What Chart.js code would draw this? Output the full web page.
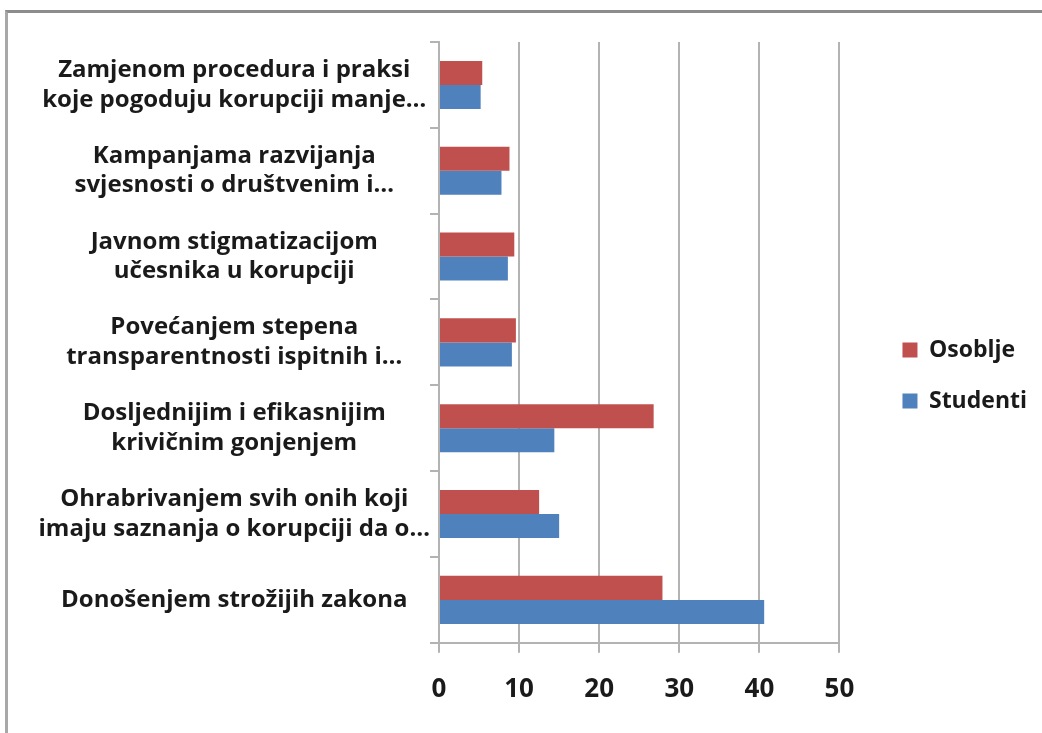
<!DOCTYPE html>
<html>
<head>
<meta charset="utf-8">
<script src="https://cdn.jsdelivr.net/npm/chart.js@4"></script>
<style>
  html, body { margin: 0; padding: 0; background: #fff; overflow: hidden; }
  #frame {
    position: absolute; left: 5px; top: 10px; width: 1037px; height: 723px;
    border-top: 3px solid #8c8c8c; border-left: 3px solid #a8a8a8;
    box-sizing: border-box;
  }
  #wrap { position: absolute; left: 0; top: 0; width: 1034px; height: 720px; }
</style>
</head>
<body>
<div id="frame"><div id="wrap"><canvas id="display1"></canvas></div></div>
<script>
  // kategorije (odozgo prema dolje)
  var categories = [
    ['Zamjenom procedura i praksi', 'koje pogoduju korupciji manje…'],
    ['Kampanjama razvijanja', 'svjesnosti o društvenim i…'],
    ['Javnom stigmatizacijom', 'učesnika u korupciji'],
    ['Povećanjem stepena', 'transparentnosti ispitnih i…'],
    ['Dosljednijim i efikasnijim', 'krivičnim gonjenjem'],
    ['Ohrabrivanjem svih onih koji', 'imaju saznanja o korupciji da o…'],
    'Donošenjem strožijih zakona'
  ];

  var osoblje  = [5.4, 8.8, 9.4, 9.6, 26.8, 12.5, 27.9];
  var studenti = [5.2, 7.8, 8.6, 9.1, 14.4, 15.0, 40.6];

  var x_ticks = [0, 10, 20, 30, 40, 50];

  var font_family = '"Open Sans", "Noto Sans", sans-serif';

  var ctx = document.getElementById('display1').getContext('2d');

  var myChart = new Chart(ctx, {
    type: 'bar',
    data: {
      labels: categories,
      datasets: [
        {
          label: 'Osoblje',
          data: osoblje,
          backgroundColor: '#c0504d',
          borderWidth: 0
        },
        {
          label: 'Studenti',
          data: studenti,
          backgroundColor: '#4f81bd',
          borderWidth: 0
        }
      ]
    },
    options: {
      indexAxis: 'y',
      responsive: true,
      maintainAspectRatio: false,
      animation: false,
      datasets: {
        bar: { categoryPercentage: 0.56, barPercentage: 1.0 }
      },
      layout: { padding: { top: 12, bottom: 7, left: 0, right: 5 } },
      plugins: {
        tooltip: { enabled: false },
        legend: {
          position: 'right',
          labels: {
            boxWidth: 15,
            boxHeight: 15,
            padding: 28,
            color: '#1a1a1a',
            font: { family: font_family, size: 23, weight: 'bold' }
          }
        }
      },
      scales: {
        x: {
          min: 0,
          max: 50,
          afterBuildTicks: function(axis) {
            axis.ticks = x_ticks.map(function(v) { return { value: v }; });
          },
          grid: {
            color: '#b3b3b3',
            lineWidth: 2,
            tickLength: 10
          },
          border: { color: '#b3b3b3', width: 2 },
          ticks: {
            padding: 21,
            color: '#1a1a1a',
            font: { family: font_family, size: 26, weight: 'bold' }
          }
        },
        y: {
          afterFit: function(axis) { axis.width = 431; },
          grid: {
            drawOnChartArea: false,
            color: '#b3b3b3',
            lineWidth: 2,
            tickLength: 9
          },
          border: { color: '#b3b3b3', width: 2 },
          ticks: {
            crossAlign: 'center',
            padding: 0,
            color: '#1a1a1a',
            font: { family: font_family, size: 24, weight: 'bold', lineHeight: 1.23 }
          }
        },
        // prazan prostor između grafikona i legende
        razmak: {
          type: 'linear',
          position: 'right',
          afterFit: function(axis) {
            axis.width = 35;
            axis.paddingTop = 29;
          },
          grid: { display: false },
          border: { display: false },
          ticks: { display: false }
        }
      }
    }
  });
</script>
</body>
</html>
